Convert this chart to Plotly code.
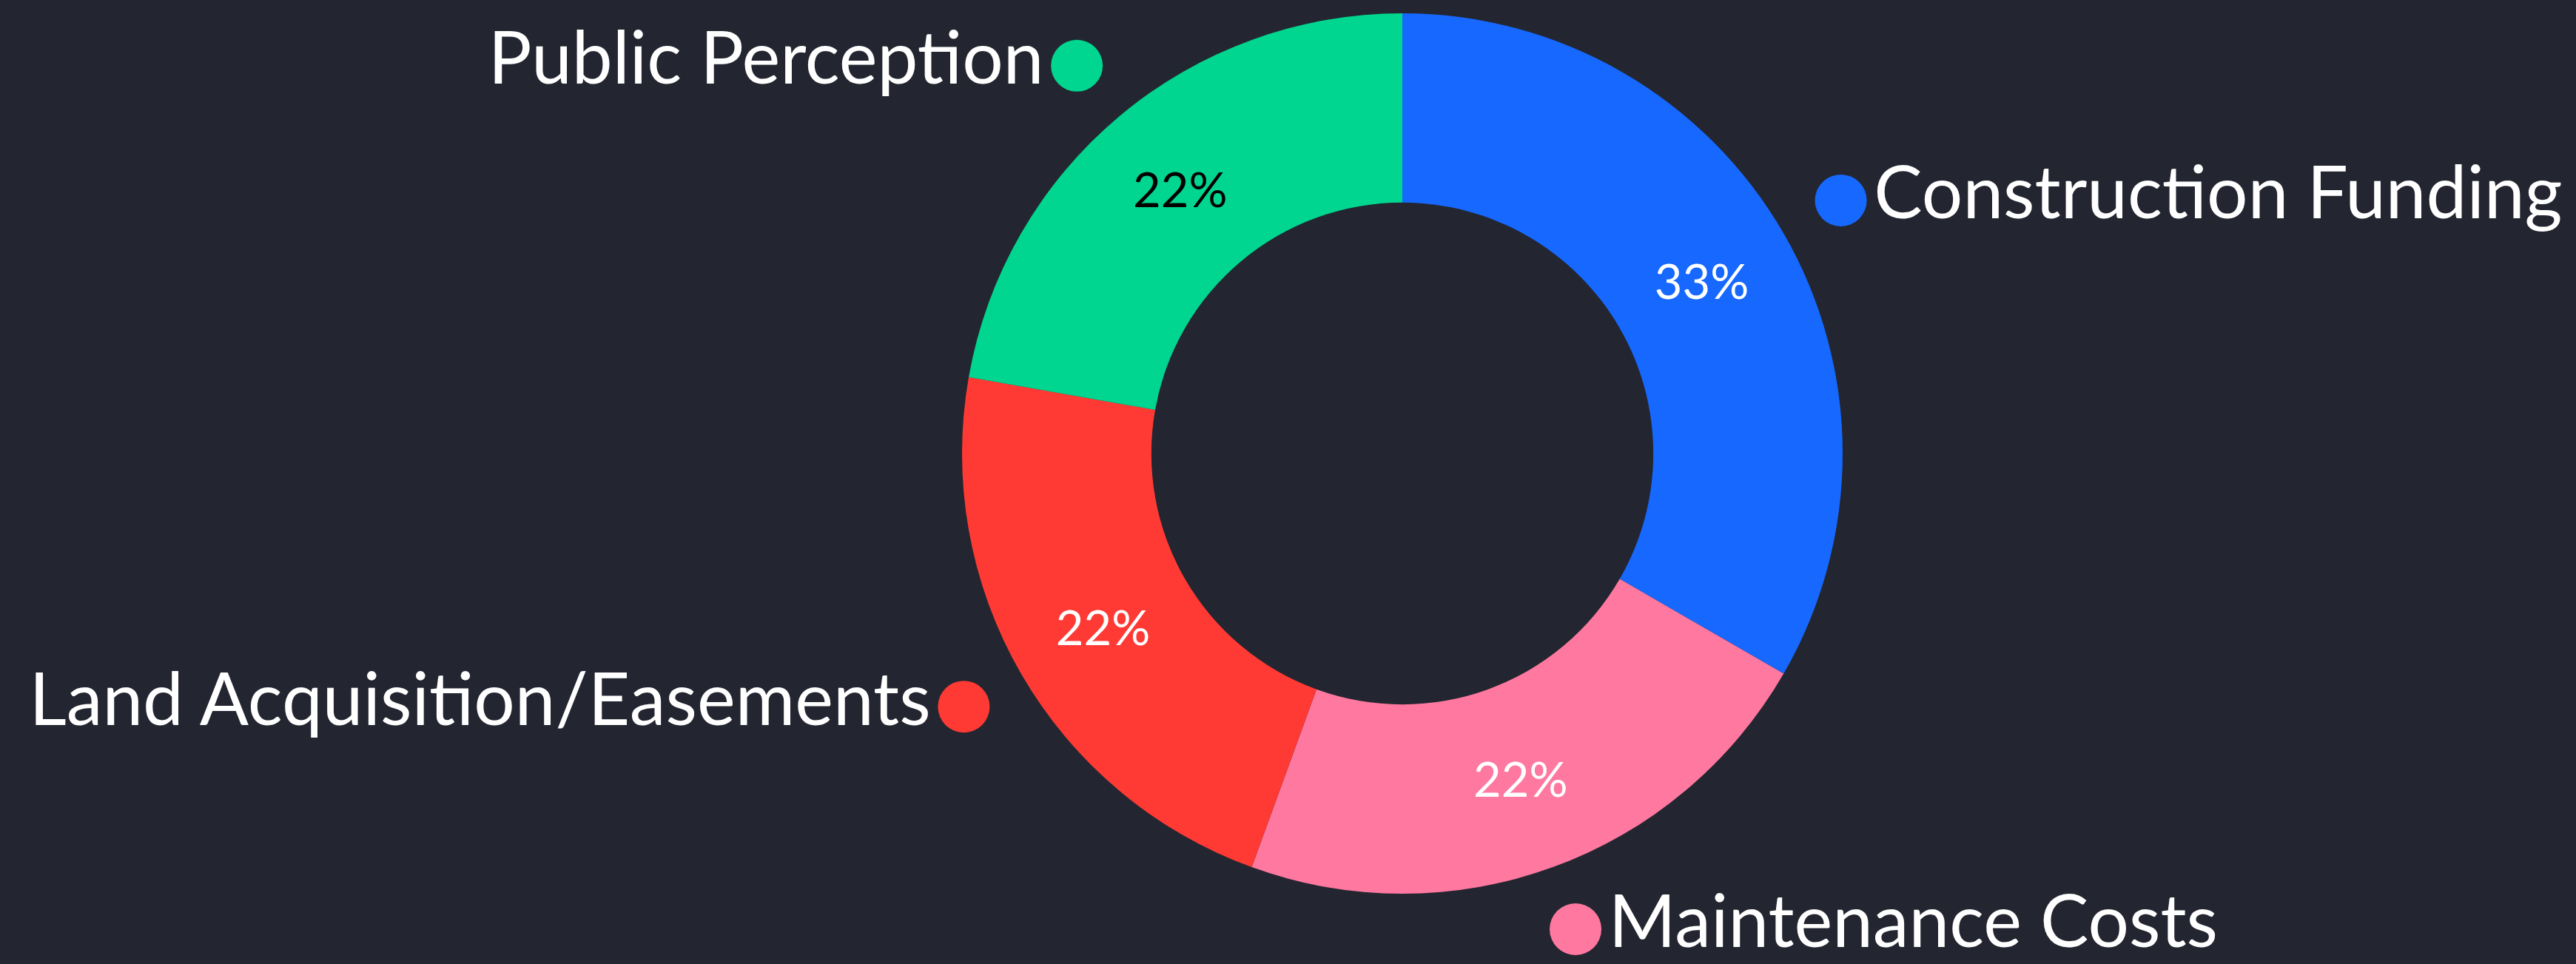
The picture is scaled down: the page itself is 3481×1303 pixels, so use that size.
import math
import plotly.graph_objects as go

# ---- data ----
categories = ["Construction Funding", "Maintenance Costs", "Land Acquisition/Easements", "Public Perception"]
values = [3, 2, 2, 2]
colors = ["#1668FF", "#FF78A0", "#FF3A34", "#00D68F"]
pct_text_colors = ["#FFFFFF", "#FFFFFF", "#FFFFFF", "#000000"]

# ---- layout constants ----
W, H = 3481, 1303
BG = "#232630"
CX, CY = 1895, 613          # pie centre, px from left / top
R = 595                     # outer radius px
HOLE = 0.57
LABEL_R = 1.15              # dot radius as fraction of R
FONT = "Lato"

fig = go.Figure()

fig.add_trace(go.Pie(
    labels=categories,
    values=values,
    sort=False,
    direction="clockwise",
    rotation=0,
    hole=HOLE,
    marker=dict(colors=colors, line=dict(width=0)),
    texttemplate="%{percent:.0%}",
    textposition="inside",
    insidetextorientation="horizontal",
    textfont=dict(family=FONT, size=65, color=pct_text_colors),
    domain=dict(x=[(CX - R) / W, (CX + R) / W], y=[1 - (CY + R) / H, 1 - (CY - R) / H]),
    showlegend=False,
    hoverinfo="label+percent",
))

# label dots + text, placed at the mid-angle of each slice
total = sum(values)
xs, ys, positions = [], [], []
cum = 0
for v in values:
    mid = (cum + v / 2) / total * 2 * math.pi
    cum += v
    x = CX + LABEL_R * R * math.sin(mid)
    y = (H - CY) + LABEL_R * R * math.cos(mid)
    xs.append(x)
    ys.append(y)
    positions.append("middle right" if math.sin(mid) >= 0 else "middle left")

fig.add_trace(go.Scatter(
    x=xs, y=ys,
    mode="markers+text",
    text=categories,
    textposition=positions,
    textfont=dict(family=FONT, size=98, color="#FFFFFF"),
    marker=dict(size=70, color=colors, line=dict(width=0)),
    showlegend=False,
    hoverinfo="skip",
    cliponaxis=False,
))

fig.update_layout(
    width=W, height=H,
    paper_bgcolor=BG, plot_bgcolor=BG,
    margin=dict(l=0, r=0, t=0, b=0),
    xaxis=dict(range=[0, W], visible=False, fixedrange=True),
    yaxis=dict(range=[0, H], visible=False, fixedrange=True),
)

fig.write_html(
    "out.html",
    config={"displayModeBar": False},
    post_script="document.body.style.margin='0';document.body.style.background='%s';"
                "document.body.style.overflow='hidden';" % BG,
)
